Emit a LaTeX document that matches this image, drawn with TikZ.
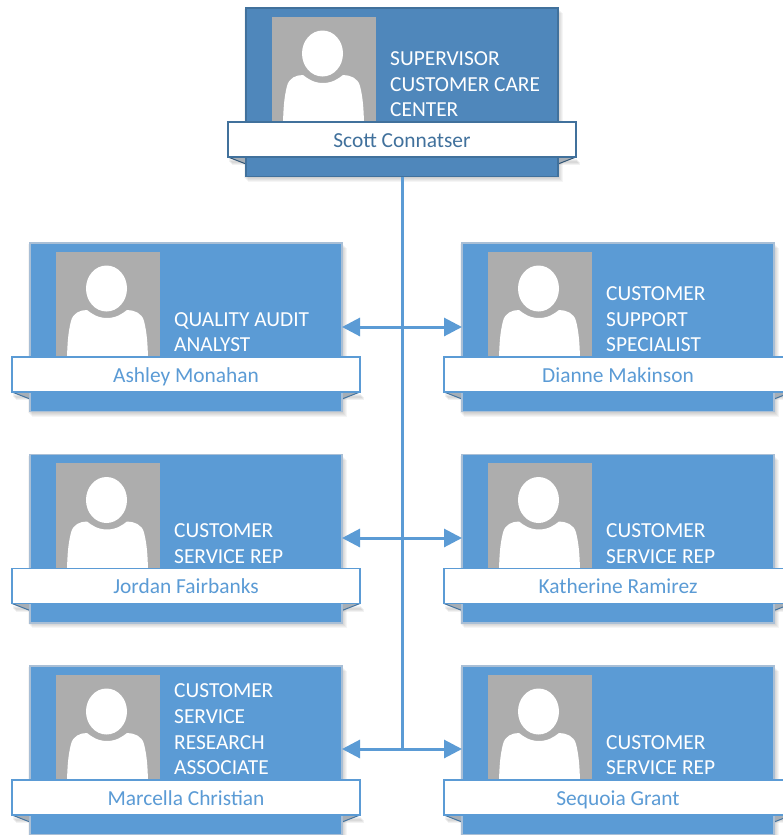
\documentclass[tikz,border=0pt]{standalone}
\usepackage{fontspec}
\setmainfont{Carlito}
\usetikzlibrary{arrows.meta,shapes.geometric,calc}
\definecolor{cardblue}{HTML}{5B9BD5}
\definecolor{topblue}{HTML}{4F87BB}
\definecolor{topedge}{HTML}{41719C}
\definecolor{softedge}{HTML}{A9BFD6}
\definecolor{bannerline}{HTML}{5B9BD5}
\definecolor{photogray}{HTML}{ADADAD}
\definecolor{foldgray}{HTML}{A6AEB6}
\tikzset{
  x=1pt,y=-1pt,
  cardbox/.style={rectangle,anchor=north west,inner sep=0pt,outer sep=0pt,minimum width=312,minimum height=168.5},
  photobox/.style={rectangle,anchor=north west,fill=photogray,inner sep=0pt,outer sep=0pt,minimum width=104,minimum height=106},
  headshape/.style={ellipse,fill=white,inner sep=0pt,minimum width=41,minimum height=46},
  titletext/.style={anchor=south west,align=left,text=white,inner sep=0pt,font=\fontsize{21.4}{25.6}\selectfont},
  namebox/.style={rectangle,anchor=north west,fill=white,inner sep=0pt,outer sep=0pt,minimum width=348,minimum height=35,text height=18pt,text depth=3pt,font=\fontsize{21.4}{24}\selectfont},
  conn/.style={draw=cardblue,line width=3pt},
  twohead/.style={conn,-{Triangle[length=18pt,width=18pt]}},
}
% #1 id, #2 x, #3 y, #4 fill, #5 edge, #6 banner edge, #7 name colour, #8 title, #9 name
\newcommand{\orgcard}[9]{%
  \begin{scope}[shift={(#2,#3)}]
    \foreach \s in {1,2,3,4,5}{
      \fill[black,opacity=.04] (\s-3,\s) rectangle (312+\s,168.5+\s);
    }
    \foreach \s in {1,2,3,4}{
      \fill[black,opacity=.05] (-18+\s,150+\s) rectangle (0,153+\s);
      \fill[black,opacity=.05] (312,150+\s) rectangle (330+\s,153+\s);
    }
    \fill[foldgray] (-18,149) -- (0,156) -- (0,149) -- cycle;
    \fill[foldgray] (330,149) -- (312,156) -- (312,149) -- cycle;
    \draw[#6!75!black,line width=1pt] (-18,149) -- (0,156);
    \draw[#6!75!black,line width=1pt] (330,149) -- (312,156);
    \node[cardbox,fill=#4,draw=#5,line width=1.5pt] (#1) at (0,0) {};
    \node[photobox] (#1-photo) at (26,8.5) {};
    \fill[white] (37,114) .. controls (37.5,100) and (38,90) .. (41,78)
      .. controls (43,70) and (50,67) .. (57,67)
      .. controls (62,71) and (68,75) .. (77,75)
      .. controls (86,75) and (92,71) .. (97,67)
      .. controls (104,67) and (112,70) .. (114,78)
      .. controls (117,90) and (117.5,100) .. (118,114) -- cycle;
    \node[headshape] (#1-head) at (76.5,45.5) {};
    \node[titletext] (#1-title) at (144,109) {#8};
    \node[namebox,draw=#6,line width=1.5pt,text=#7] (#1-name) at (-18,114) {#9};
  \end{scope}%
}
\begin{document}
\begin{tikzpicture}
\useasboundingbox (0,0) rectangle (783,835);
\fill[white] (0,0) rectangle (783,835);
\coordinate (j1) at (402,327);
\coordinate (j2) at (402,538);
\coordinate (j3) at (402,749);
\orgcard{scott}{246}{8}{topblue}{topedge}{topedge}{topedge}{SUPERVISOR\\CUSTOMER CARE\\CENTER}{Scott Connatser}
\orgcard{ashley}{30}{243}{cardblue}{softedge}{bannerline}{cardblue}{QUALITY AUDIT\\ANALYST}{Ashley Monahan}
\orgcard{dianne}{462}{243}{cardblue}{softedge}{bannerline}{cardblue}{CUSTOMER\\SUPPORT\\SPECIALIST}{Dianne Makinson}
\orgcard{jordan}{30}{454.5}{cardblue}{softedge}{bannerline}{cardblue}{CUSTOMER\\SERVICE REP}{Jordan Fairbanks}
\orgcard{katherine}{462}{454.5}{cardblue}{softedge}{bannerline}{cardblue}{CUSTOMER\\SERVICE REP}{Katherine Ramirez}
\orgcard{marcella}{30}{666}{cardblue}{softedge}{bannerline}{cardblue}{CUSTOMER\\SERVICE\\RESEARCH\\ASSOCIATE}{Marcella Christian}
\orgcard{sequoia}{462}{666}{cardblue}{softedge}{bannerline}{cardblue}{CUSTOMER\\SERVICE REP}{Sequoia Grant}
\draw[conn] (scott.south) -- (j3);
\draw[twohead] (j1) -- (ashley.east |- j1);
\draw[twohead] (j1) -- (dianne.west |- j1);
\draw[twohead] (j2) -- (jordan.east |- j2);
\draw[twohead] (j2) -- (katherine.west |- j2);
\draw[twohead] (j3) -- (marcella.east |- j3);
\draw[twohead] (j3) -- (sequoia.west |- j3);
\end{tikzpicture}
\end{document}
